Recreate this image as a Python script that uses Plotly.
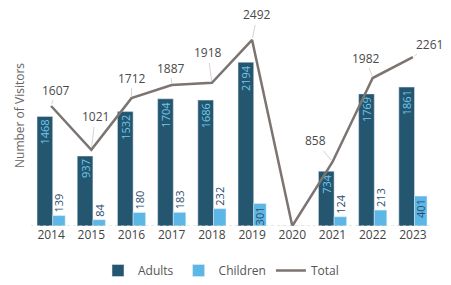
import plotly.graph_objects as go

years = ["2014", "2015", "2016", "2017", "2018", "2019", "2020", "2021", "2022", "2023"]
adults = [1468, 937, 1532, 1704, 1686, 2194, 0, 734, 1769, 1861]
children = [139, 84, 180, 183, 232, 301, 0, 124, 213, 401]
total = [1607, 1021, 1712, 1887, 1918, 2492, 0, 858, 1982, 2261]

# label offsets (pixels) for total annotations
label_dx = [5, 4, 0, -1, -4, 5, 0, -17, -7, 17]
label_dy = [-16, -33, -20, -17, -30, -25, 0, -21, -20, -13]

ADULT_C = "#25566f"
CHILD_C = "#5cb6e6"
LINE_C = "#7b7470"
FONT = "Open Sans"

adult_txt = [str(v) if v else "" for v in adults]
child_txt = [str(v) if v else "" for v in children]
child_pos = ["inside" if v > 280 else "outside" for v in children]

fig = go.Figure()
fig.add_trace(go.Bar(
    x=years, y=adults, name="Adults", marker_color=ADULT_C,
    offset=-0.35, width=0.39,
    text=adult_txt, textposition="inside", insidetextanchor="end",
    textangle=-90, constraintext="none",
    textfont=dict(color="#6fc8ee", size=11, family=FONT),
))
fig.add_trace(go.Bar(
    x=years, y=children, name="Children", marker_color=CHILD_C,
    offset=0.04, width=0.31,
    text=child_txt, textposition=child_pos, insidetextanchor="end",
    textangle=-90, constraintext="none", cliponaxis=False,
    textfont=dict(color="#2b4d6b", size=11, family=FONT),
))
fig.add_trace(go.Scatter(
    x=years, y=total, name="Total", mode="lines",
    line=dict(color=LINE_C, width=2.5),
))

for i, t in enumerate(total):
    if not t:
        continue
    fig.add_annotation(
        x=i, y=t, text=str(t), showarrow=True, arrowhead=0,
        arrowwidth=0.8, arrowcolor="#c8c8c8", standoff=2,
        ax=label_dx[i], ay=label_dy[i],
        font=dict(size=12, color="#4a4a4a", family=FONT),
    )

fig.add_shape(type="line", xref="paper", yref="y", x0=0, x1=1, y0=0, y1=0,
              line=dict(color="#d0d0d0", width=1, dash="dot"))

fig.update_layout(
    width=451, height=285,
    margin=dict(l=31, r=18, t=5, b=59),
    paper_bgcolor="white", plot_bgcolor="white",
    font=dict(family=FONT, color="#444444", size=12),
    barmode="overlay",
    showlegend=True,
    legend=dict(orientation="h", xref="container", yref="container",
                x=0.49, xanchor="center", y=0.0, yanchor="bottom",
                font=dict(size=12, color="#555555"),
                traceorder="normal"),
    xaxis=dict(type="category", range=[-0.5, 9.5], showgrid=False,
               showline=False, zeroline=False, automargin=False,
               tickfont=dict(size=12, color="#444444"), ticks=""),
    yaxis=dict(range=[0, 2960], showgrid=False, zeroline=False,
               showticklabels=False, showline=False, automargin=False,
               title=dict(text="Number of Visitors", standoff=2,
                          font=dict(size=12, color="#666666"))),
)

fig.write_html("out.html", config={"displayModeBar": False},
               post_script="document.body.style.margin='0';document.body.style.overflow='hidden';")
